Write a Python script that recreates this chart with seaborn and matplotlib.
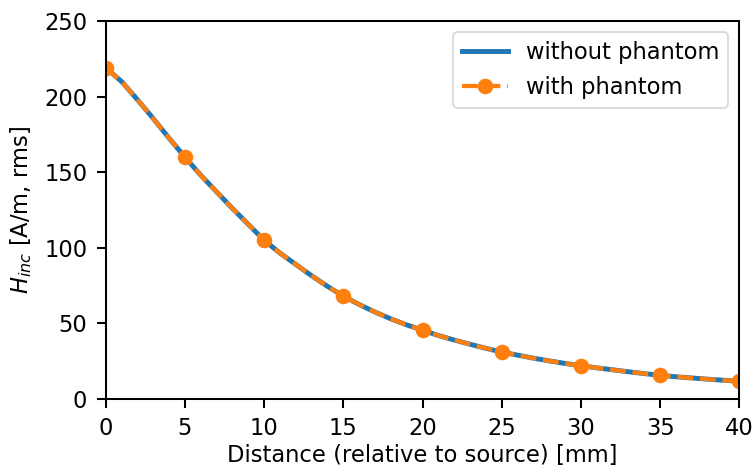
import matplotlib.pyplot as plt
import numpy as np
import pandas as pd
import seaborn as sb

# distance from source [mm]
dist = np.arange(0, 41)
# field without phantom
h_without = [219, 210, 198, 185.5, 172.5, 160, 148, 137, 126, 115.5,
             105, 96.5, 89, 81.5, 74.5, 68, 62.5, 57.5, 53, 49,
             45.5, 42, 39, 36.2, 33.5, 31, 29, 27, 25.2, 23.5,
             22, 20.6, 19.3, 18, 16.8, 15.6, 14.7, 13.9, 13.1, 12.4, 11.7]
# field with phantom (markers every 5 mm)
h_with = [219, 210, 198, 185.5, 172.5, 160, 148, 137, 126, 115.5,
          105, 96.5, 89, 81.5, 74.5, 68, 62.5, 57.5, 53, 49,
          45.5, 42, 39, 36.2, 33.5, 31, 29, 27, 25.2, 23.5,
          22, 20.6, 19.3, 18, 16.8, 15.6, 14.7, 13.9, 13.1, 12.4, 11.7]

if __name__ == "__main__":
    plt.rcParams.update({
        "font.size": 13.8,
        "axes.linewidth": 1.25,
        "xtick.major.size": 5.6, "ytick.major.size": 5.6,
        "xtick.major.width": 1.25, "ytick.major.width": 1.25,
        "xtick.major.pad": 5.6, "ytick.major.pad": 5.6,
    })
    fig, ax = plt.subplots(figsize=(6.4, 4), dpi=118)
    fig.subplots_adjust(left=0.140, right=0.979, top=0.9555, bottom=0.1547)

    df = pd.DataFrame({"d": dist, "without": h_without, "with": h_with})
    sb.lineplot(data=df, x="d", y="without", ax=ax, color="C0", linewidth=3.0,
                label="without phantom")
    sb.lineplot(data=df, x="d", y="with", ax=ax, color="C1", linewidth=2.6,
                linestyle="--", marker="o", markersize=9.5, markeredgewidth=0,
                markevery=5, label="with phantom")

    ax.set_xlim(0, 40)
    ax.set_ylim(0, 250)
    ax.set_xlabel("Distance (relative to source) [mm]", labelpad=2.5)
    ax.set_ylabel("$H_{inc}$ [A/m, rms]", labelpad=6.4)
    ax.legend(loc="upper right")
    plt.savefig("out.png")
    plt.close()
